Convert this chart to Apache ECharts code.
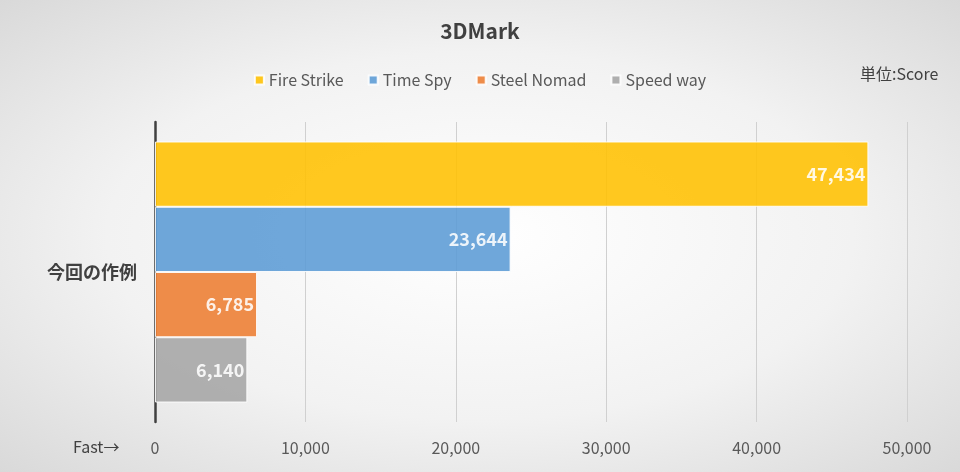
<!DOCTYPE html>
<html>
<head>
<meta charset="utf-8">
<script src="https://cdn.jsdelivr.net/npm/echarts@6/dist/echarts.min.js"></script>
<style>
html, body { margin: 0; padding: 0; }
body { background: radial-gradient(ellipse at center, #ffffff 0%, #f2f2f2 55%, #d9d9d9 100%); }
#chart { width: 960px; height: 472px; }
</style>
</head>
<body>
<div id="chart"></div>
<script>
var categories = ['今回の作例'];
var seriesNames = ['Fire Strike', 'Time Spy', 'Steel Nomad', 'Speed way'];
var fireStrike = [47434];
var timeSpy = [23644];
var steelNomad = [6785];
var speedWay = [6140];
var colors = ['#ffc000', '#5b9bd5', '#ed7d31', '#a5a5a5'];

var font = '"Noto Sans CJK JP", "Noto Sans", sans-serif';
var myChart = echarts.init(document.getElementById('chart'));

function makeSeries(name, data, color) {
	return {
		name: name,
		type: 'bar',
		data: data,
		barGap: '0%',
		barCategoryGap: '13%',
		itemStyle: { color: color, opacity: 0.88, borderColor: '#ffffff', borderWidth: 1 },
		label: {
			show: true,
			position: 'insideRight',
			distance: 3,
			color: '#ffffff',
			fontWeight: 'bold',
			fontSize: 18,
			fontFamily: font,
			formatter: function(p) { return p.value.toLocaleString('en-US'); }
		}
	};
}

var option = {
	backgroundColor: 'transparent',
	color: colors,
	title: {
		text: '3DMark',
		left: 'center',
		top: 16,
		textStyle: { fontSize: 21, fontWeight: 'bold', color: '#404040', fontFamily: font }
	},
	legend: {
		data: seriesNames,
		top: 67,
		left: 'center',
		icon: 'rect',
		itemWidth: 9,
		itemHeight: 9,
		itemGap: 24,
		textStyle: { fontSize: 16, color: '#595959', fontFamily: font }
	},
	graphic: [
		{ type: 'text', left: 860, top: 66, style: { text: '単位:Score', fontSize: 16, fill: '#404040', fontFamily: font } },
		{ type: 'text', left: 73, top: 439, style: { text: 'Fast→', fontSize: 16, fill: '#404040', fontFamily: font } }
	],
	grid: { left: 155, right: 53, top: 122, bottom: 50 },
	xAxis: {
		type: 'value',
		min: 0,
		max: 50000,
		interval: 10000,
		axisLine: { show: false },
		axisTick: { show: false },
		axisLabel: {
			fontSize: 16, color: '#595959', fontFamily: font, margin: 18,
			formatter: function(v) { return v.toLocaleString('en-US'); }
		},
		splitLine: { show: true, lineStyle: { color: '#d0d0d0' } }
	},
	yAxis: {
		type: 'category',
		data: categories,
		inverse: true,
		axisLine: { show: true, lineStyle: { color: '#404040', width: 2.5 } },
		axisTick: { show: false },
		axisLabel: { fontSize: 18, fontWeight: 'bold', color: '#404040', fontFamily: font, margin: 18 }
	},
	series: [
		makeSeries(seriesNames[0], fireStrike, colors[0]),
		makeSeries(seriesNames[1], timeSpy, colors[1]),
		makeSeries(seriesNames[2], steelNomad, colors[2]),
		makeSeries(seriesNames[3], speedWay, colors[3])
	]
};
myChart.setOption(option);
</script>
</body>
</html>
